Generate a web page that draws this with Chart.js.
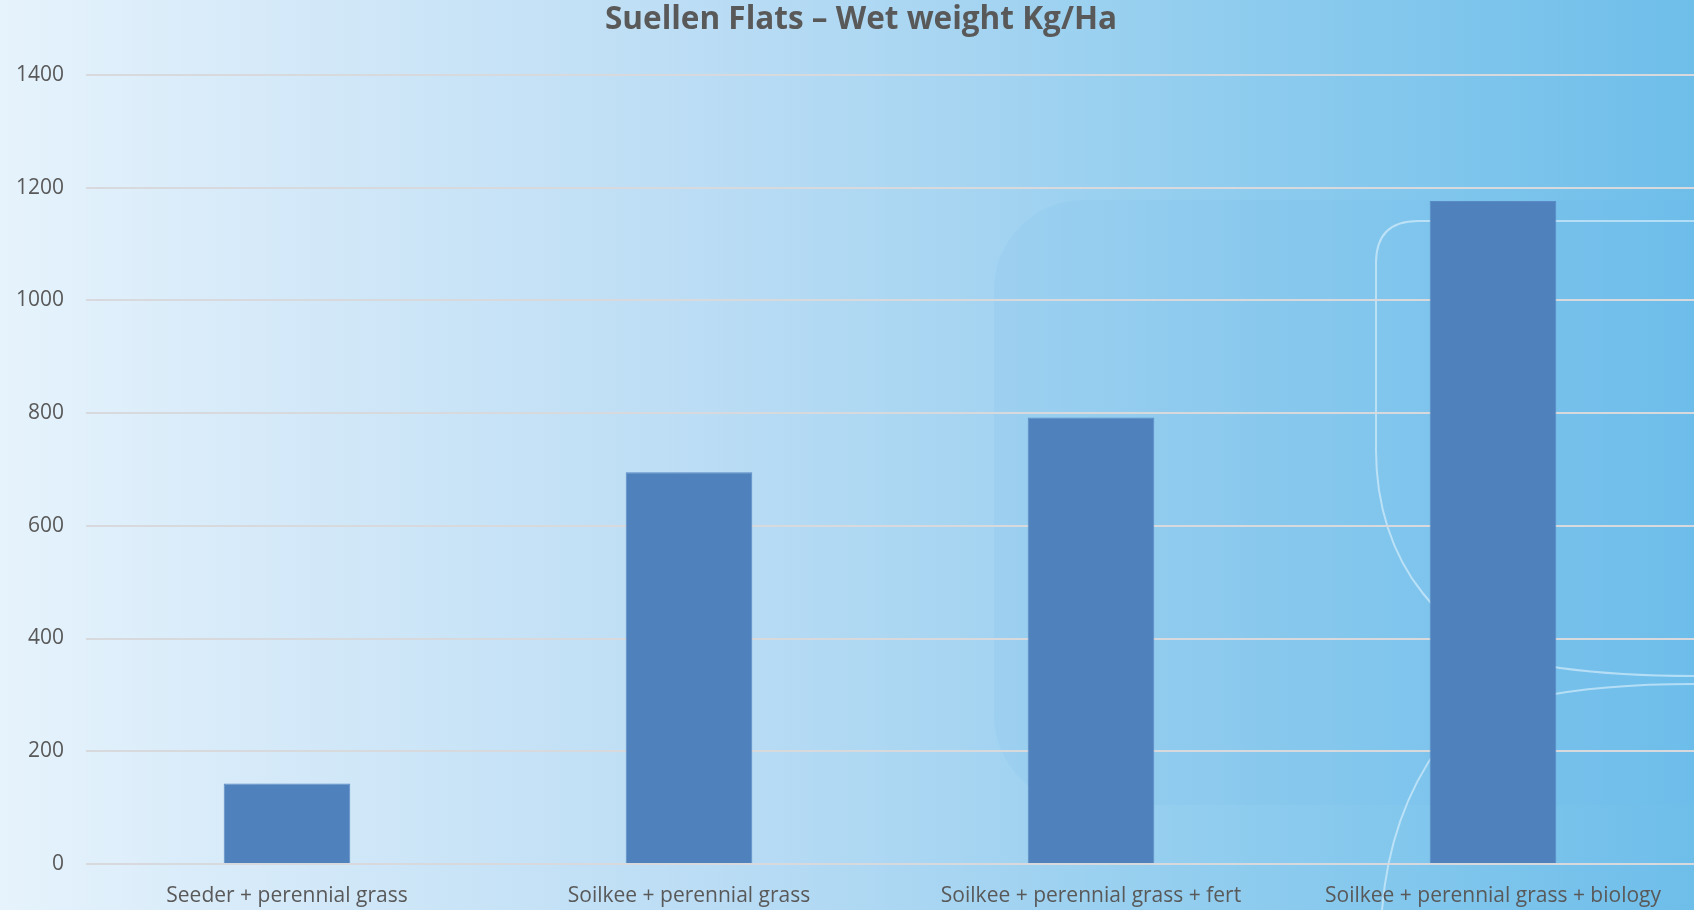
<!DOCTYPE html>
<html>
<head>
<meta charset="utf-8">
<title>Suellen Flats – Wet weight Kg/Ha</title>
<script src="https://cdn.jsdelivr.net/npm/chart.js@4/dist/chart.umd.min.js"></script>
<style>
  html, body { margin: 0; padding: 0; overflow: hidden; }
  #wrap { position: relative; width: 1694px; height: 910px; }
</style>
</head>
<body>
<div id="wrap"><canvas id="chart"></canvas></div>
<script>
// chart data
const chartTitle = "Suellen Flats – Wet weight Kg/Ha";
const categories = [
  "Seeder + perennial grass",
  "Soilkee + perennial grass",
  "Soilkee + perennial grass + fert",
  "Soilkee + perennial grass + biology",
];
const wetWeight = [143, 695, 792, 1176];
const yMin = 0;
const yMax = 1400;
const yStep = 200;

const FONT = "'Open Sans', 'Noto Sans', sans-serif";
const TEXT = "#595959";
const GRID = "#d7d9dc";
const BAR = "#4f81bd";

// slide-like background: left-to-right blue gradient with faint decorations
const backgroundPlugin = {
  id: "slideBackground",
  afterLayout: (chart) => {
    // the original title sits a little right of the canvas centre
    if (chart.titleBlock) {
      chart.titleBlock.left += 14;
      chart.titleBlock.right += 14;
    }
  },
  beforeDraw: (chart) => {
    const { ctx, width, height } = chart;
    ctx.save();
    const g = ctx.createLinearGradient(0, 0, width, 0);
    g.addColorStop(0, "#e6f3fc");
    g.addColorStop(0.15, "#d6eaf9");
    g.addColorStop(0.45, "#b7dbf4");
    g.addColorStop(0.75, "#8ccbee");
    g.addColorStop(1, "#6ebeea");
    ctx.fillStyle = g;
    ctx.fillRect(0, 0, width, height);

    // faint rounded panel behind the right bars
    ctx.fillStyle = "rgba(110, 185, 235, 0.11)";
    ctx.beginPath();
    ctx.roundRect(994, 200, 800, 605, 90);
    ctx.fill();

    // thin light curves
    ctx.strokeStyle = "rgba(235, 248, 255, 0.55)";
    ctx.lineWidth = 2;
    ctx.beginPath();
    ctx.moveTo(width, 221);
    ctx.lineTo(1418, 221);
    ctx.quadraticCurveTo(1376, 221, 1376, 263);
    ctx.lineTo(1376, 450);
    ctx.bezierCurveTo(1376, 560, 1440, 650, 1560, 668);
    ctx.quadraticCurveTo(1620, 676, width, 676);
    ctx.stroke();

    ctx.beginPath();
    ctx.moveTo(width, 684);
    ctx.bezierCurveTo(1580, 684, 1470, 700, 1440, 745);
    ctx.bezierCurveTo(1400, 800, 1386, 860, 1382, height);
    ctx.stroke();
    ctx.restore();
  },
};

const ctx = document.getElementById("chart").getContext("2d");

new Chart(ctx, {
  type: "bar",
  data: {
    labels: categories,
    datasets: [
      {
        label: "Wet weight Kg/Ha",
        data: wetWeight,
        backgroundColor: BAR,
        borderColor: "#5a8ac4",
        borderWidth: 1,
        categoryPercentage: 1,
        barPercentage: 0.315,
      },
    ],
  },
  options: {
    responsive: true,
    maintainAspectRatio: false,
    animation: false,
    layout: { padding: { left: 0, right: 0, top: 0, bottom: 0 } },
    plugins: {
      legend: { display: false },
      tooltip: { enabled: false },
      title: {
        display: true,
        text: chartTitle,
        color: TEXT,
        font: { family: FONT, size: 31.5, weight: "bold" },
        padding: { top: 1, bottom: 36 },
      },
    },
    scales: {
      x: {
        grid: { display: false, drawTicks: false },
        border: { display: false },
        ticks: {
          color: TEXT,
          font: { family: FONT, size: 21 },
          padding: 19,
          maxRotation: 0,
          autoSkip: false,
        },
        afterFit: (scale) => {
          scale.height = 46;
        },
      },
      y: {
        min: yMin,
        max: yMax,
        grid: { color: GRID, lineWidth: 2, drawTicks: false },
        border: { display: false },
        ticks: {
          stepSize: yStep,
          color: TEXT,
          font: { family: FONT, size: 21 },
          padding: 22,
          callback: (value) => String(value),
        },
        afterFit: (scale) => {
          scale.width = 86;
        },
      },
    },
  },
  plugins: [backgroundPlugin],
});
</script>
</body>
</html>
